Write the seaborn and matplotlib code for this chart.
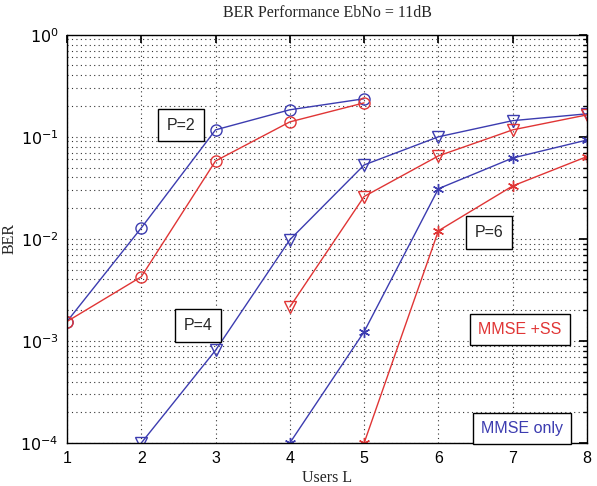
import numpy as np
import pandas as pd
import matplotlib
matplotlib.use("Agg")
import matplotlib.pyplot as plt
import seaborn as sns

users_p2 = [1, 2, 3, 4, 5]
ber_p2_only = [1.55e-3, 1.28e-2, 0.117, 0.184, 0.236]
ber_p2_ss = [1.55e-3, 4.25e-3, 0.058, 0.14, 0.215]

users_p4_only = [2, 3, 4, 5, 6, 7, 8]
ber_p4_only = [1e-4, 8.1e-4, 9.8e-3, 0.053, 0.10, 0.144, 0.168]
users_p4_ss = [4, 5, 6, 7, 8]
ber_p4_ss = [2.15e-3, 0.026, 0.065, 0.117, 0.164]

users_p6_only = [4, 5, 6, 7, 8]
ber_p6_only = [1e-4, 1.23e-3, 0.031, 0.062, 0.093]
users_p6_ss = [5, 6, 7, 8]
ber_p6_ss = [1e-4, 0.012, 0.033, 0.064]

x_ticks = [1, 2, 3, 4, 5, 6, 7, 8]

BLUE = "#3c3cb0"
RED = "#e03535"

sns.set_theme(style="white")
plt.rcParams["font.family"] = ["Liberation Sans", "DejaVu Sans"]

fig = plt.figure(figsize=(5.97, 4.86), dpi=100)
ax = fig.add_axes([0.1122, 0.0885, 0.871, 0.84])

ASTER = (6, 2, 0)
series = [
    (users_p2, ber_p2_only, BLUE, "o"),
    (users_p2, ber_p2_ss, RED, "o"),
    (users_p4_only, ber_p4_only, BLUE, "v"),
    (users_p4_ss, ber_p4_ss, RED, "v"),
    (users_p6_only, ber_p6_only, BLUE, ASTER),
    (users_p6_ss, ber_p6_ss, RED, ASTER),
]
for xs, ys, c, m in series:
    df = pd.DataFrame({"x": xs, "y": ys})
    sns.lineplot(data=df, x="x", y="y", ax=ax, color=c, lw=1.0,
                 marker=m, markersize=8 if m != ASTER else 8,
                 markerfacecolor="none", markeredgecolor=c,
                 markeredgewidth=1.0, clip_on=True)

ax.set_yscale("log")
ax.set_xlim(1, 8)
ax.set_ylim(1e-4, 1)
ax.set_xticks(x_ticks)
ax.set_xticklabels([str(v) for v in x_ticks])
ax.set_yticks([1e-4, 1e-3, 1e-2, 1e-1, 1])
ax.set_yticklabels([r"$10^{-4}$", r"$10^{-3}$", r"$10^{-2}$", r"$10^{-1}$", r"$10^{0}$"])

ax.grid(True, which="major", color="#333333", linestyle=(0, (1, 3)), lw=0.8)
ax.grid(True, which="minor", axis="y", color="#333333", linestyle=(0, (1, 3)), lw=0.8)
ax.tick_params(which="both", direction="in", top=True, right=True,
               labelsize=11.5, colors="black", pad=6)
ax.tick_params(which="major", length=6)
ax.tick_params(which="minor", length=3)
for s in ax.spines.values():
    s.set_color("black")
    s.set_linewidth(1.0)

serif = ["Liberation Serif", "DejaVu Serif"]
ax.set_title("BER Performance EbNo = 11dB", fontsize=11.5, family=serif, pad=13)
ax.set_xlabel("Users L", fontsize=11.5, family=serif, labelpad=3)
ax.set_ylabel("BER", fontsize=11.5, family=serif, labelpad=2)

box = dict(boxstyle="square,pad=0.55", fc="white", ec="black", lw=1.0)
ax.text(2.53, 0.13, "P=2", fontsize=11.5, ha="center", va="center", bbox=box)
ax.text(2.76, 1.42e-3, "P=4", fontsize=11.5, ha="center", va="center", bbox=box)
ax.text(6.68, 1.15e-2, "P=6", fontsize=11.5, ha="center", va="center", bbox=box)
box2 = dict(boxstyle="square,pad=0.5", fc="white", ec="black", lw=1.0)
ax.text(7.1, 1.3e-3, "MMSE +SS", fontsize=11.5, color=RED, ha="center", va="center", bbox=box2)
ax.text(7.12, 1.38e-4, "MMSE only", fontsize=11.5, color=BLUE, ha="center", va="center", bbox=box2)

fig.savefig("out.png", dpi=100)
